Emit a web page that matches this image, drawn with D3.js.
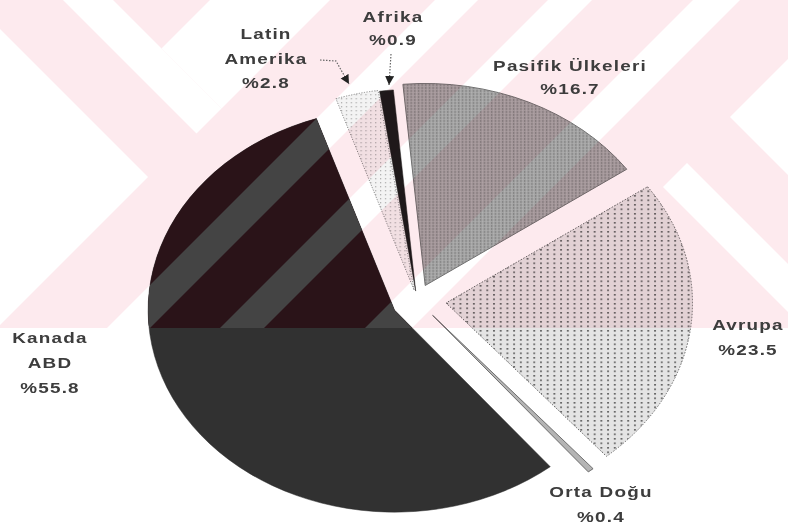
<!DOCTYPE html>
<html><head><meta charset="utf-8">
<script src="https://cdn.jsdelivr.net/npm/d3@7"></script>
<style>html,body{margin:0;padding:0;background:#fff;} svg{display:block}</style>
</head><body><svg id="chart" width="788" height="529"></svg>
<script>
// ---- data ----
const regions = ["Latin Amerika","Afrika","Pasifik Ülkeleri","Avrupa","Orta Doğu","Kanada ABD"];
const shares = [2.8, 0.9, 16.7, 23.5, 0.4, 55.8];
const nameLines = [["Latin","Amerika"],["Afrika"],["Pasifik Ülkeleri"],["Avrupa"],["Orta Doğu"],["Kanada","ABD"]];

// ---- layout / style ----
const W = 788, H = 529;
const cx = 417, cy = 300, R = 202, SX = 1.22;
const startDeg = -18.5;
const explode = [10, 9, 16, 24, 20, 21];
const labelPos = [[266,34],[393,17],[570,66],[748,325],[601,492],[50,338]];
const lineGap = [24.5, 23, 23, 25, 25, 25];
const WM_BOTTOM = 328;
const PINK = "#fdeaee";

const svg = d3.select("#chart");
const defs = svg.append("defs");

// patterns
const pPas = defs.append("pattern").attr("id","pPas").attr("patternUnits","userSpaceOnUse").attr("width",3).attr("height",3);
pPas.append("rect").attr("width",3).attr("height",3).attr("fill","#a2a2a2");
pPas.append("rect").attr("width",1).attr("height",1).attr("fill","#6a6a6a");
pPas.append("rect").attr("x",1.5).attr("y",1.5).attr("width",1).attr("height",1).attr("fill","#c0c0c0");

const pAvr = defs.append("pattern").attr("id","pAvr").attr("patternUnits","userSpaceOnUse").attr("width",5.5).attr("height",4.5);
pAvr.append("rect").attr("width",5.5).attr("height",4.5).attr("fill","#e4e4e4");
pAvr.append("rect").attr("width",1.6).attr("height",1.6).attr("fill","#666");

const pLat = defs.append("pattern").attr("id","pLat").attr("patternUnits","userSpaceOnUse").attr("width",4).attr("height",4);
pLat.append("rect").attr("width",4).attr("height",4).attr("fill","#f3f3f3");
pLat.append("rect").attr("width",1).attr("height",1).attr("fill","#999");

const mk = defs.append("marker").attr("id","arrow").attr("markerUnits","userSpaceOnUse")
  .attr("markerWidth",10).attr("markerHeight",10).attr("refX",9).attr("refY",4.5).attr("orient","auto");
mk.append("path").attr("d","M0,0 L9,4.5 L0,9 z").attr("fill","#222");

const blur = defs.append("filter").attr("id","soft").attr("x","-5%").attr("y","-20%").attr("width","110%").attr("height","140%");
blur.append("feGaussianBlur").attr("stdDeviation",0.45);

// background
svg.append("rect").attr("width",W).attr("height",H).attr("fill","#fff");

// watermark geometry (half-planes in s=x+y, d=x-y)
const whiteRegions = [
  {d:[63,113], s:[null,330]},
  {d:[null,-29], s:[null,325]},
  {s:[210,330], d:[113,null]},
  {s:[435,478]},
  {s:[548,592]},
  {s:[693,740]},
  {s:[847,null], d:[613,null]},
  {d:[476,524], s:[850,null]}
];
function clipPoly(poly, a, b, c){
  const out = [];
  for (let i = 0; i < poly.length; i++){
    const P = poly[i], Q = poly[(i+1)%poly.length];
    const fp = a*P[0]+b*P[1]-c, fq = a*Q[0]+b*Q[1]-c;
    if (fp <= 0) out.push(P);
    if ((fp < 0 && fq > 0) || (fp > 0 && fq < 0)){
      const t = fp/(fp-fq);
      out.push([P[0]+t*(Q[0]-P[0]), P[1]+t*(Q[1]-P[1])]);
    }
  }
  return out;
}
function regionPoly(r){
  let poly = [[0,0],[W,0],[W,WM_BOTTOM],[0,WM_BOTTOM]];
  if (r.s){ if (r.s[1]!=null) poly = clipPoly(poly,1,1,r.s[1]); if (r.s[0]!=null) poly = clipPoly(poly,-1,-1,-r.s[0]); }
  if (r.d){ if (r.d[1]!=null) poly = clipPoly(poly,1,-1,r.d[1]); if (r.d[0]!=null) poly = clipPoly(poly,-1,1,-r.d[0]); }
  return poly;
}
function drawWatermark(g, pink, white){
  g.append("rect").attr("x",0).attr("y",0).attr("width",W).attr("height",WM_BOTTOM).attr("fill",pink);
  whiteRegions.forEach(r => {
    const p = regionPoly(r);
    if (p.length > 2) g.append("path").attr("d","M"+p.map(q=>q.join(",")).join("L")+"Z").attr("fill",white);
  });
}
drawWatermark(svg.append("g"), PINK, "#fff");

// pie
const a0 = startDeg*Math.PI/180;
const pie = d3.pie().sort(null).value(d=>d).startAngle(a0).endAngle(a0+2*Math.PI);
const arcs = pie(shares);
const arc = d3.arc().innerRadius(0).outerRadius(R);
const sliceStyle = [
  {fill:"url(#pLat)", stroke:"#8a8a8a", dash:"1.2,1.4", sw:1},
  {fill:"#1f1a1b", stroke:"#1f1a1b", dash:null, sw:0.5},
  {fill:"url(#pPas)", stroke:"#707070", dash:null, sw:1},
  {fill:"url(#pAvr)", stroke:"#666", dash:"1.5,1.5", sw:1},
  {fill:"#b4b4b4", stroke:"#555", dash:null, sw:0.8},
  {fill:"#313131", stroke:"#2a2a2a", dash:null, sw:0.5}
];
function sliceTransform(d, i){
  const m = (d.startAngle+d.endAngle)/2, e = explode[i];
  return `translate(${cx},${cy}) scale(${SX},1) translate(${e*Math.sin(m)},${-e*Math.cos(m)})`;
}
svg.append("g").selectAll("path").data(arcs).join("path")
  .attr("transform", sliceTransform)
  .attr("d", arc)
  .attr("fill", (d,i)=>sliceStyle[i].fill)
  .attr("stroke", (d,i)=>sliceStyle[i].stroke)
  .attr("stroke-width", (d,i)=>sliceStyle[i].sw)
  .attr("stroke-dasharray", (d,i)=>sliceStyle[i].dash)
  .attr("vector-effect","non-scaling-stroke")
  .style("mix-blend-mode", (d,i)=> i===5 ? "normal" : "multiply");

// dark slice tinted where watermark lies
const kIdx = 5;
defs.append("clipPath").attr("id","kclip").append("path")
  .attr("transform", sliceTransform(arcs[kIdx], kIdx)).attr("d", arc(arcs[kIdx]));
drawWatermark(svg.append("g").attr("clip-path","url(#kclip)"), "#2a1318", "#444444");

// labels
const lg = svg.append("g").attr("font-family","'Liberation Sans', Arial, sans-serif")
  .attr("font-weight","bold").attr("font-size",15.5).attr("fill","#3c3c3c")
  .attr("letter-spacing","1px").attr("filter","url(#soft)");
regions.forEach((r,i) => {
  const lines = nameLines[i].concat(["%" + shares[i].toFixed(1)]);
  lines.forEach((t,j) => {
    lg.append("text")
      .attr("transform", `translate(${labelPos[i][0]},${labelPos[i][1]+j*lineGap[i]}) scale(${SX},1)`)
      .attr("text-anchor","middle").attr("dominant-baseline","central").text(t);
  });
});

// leader arrows
const ag = svg.append("g").attr("fill","none").attr("stroke","#666").attr("stroke-width",1.2).attr("stroke-dasharray","1.5,1.5");
ag.append("path").attr("d","M320,60 L336,61 L349,84").attr("marker-end","url(#arrow)");
ag.append("path").attr("d","M391,54 L389,85").attr("marker-end","url(#arrow)");
</script>
</body></html>
